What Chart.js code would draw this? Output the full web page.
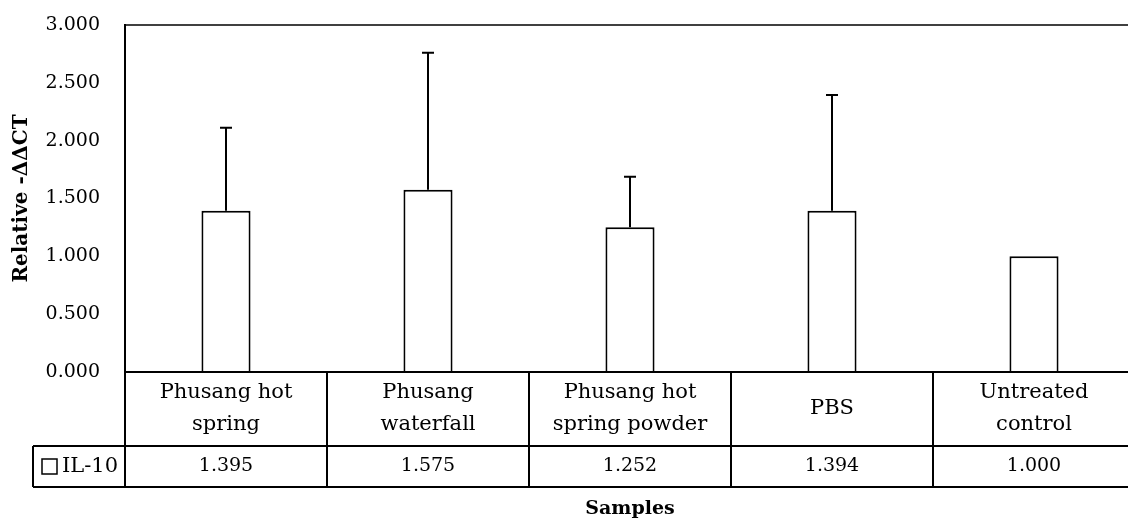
<!DOCTYPE html>
<html>
<head>
<meta charset="utf-8">
<script src="https://cdn.jsdelivr.net/npm/chart.js@4.4.1/dist/chart.umd.min.js"></script>
<style>
html,body{margin:0;padding:0;overflow:hidden;background:#fff;width:1128px;height:521px;}
#wrap{width:1136px;height:521px;}
</style>
</head>
<body>
<div id="wrap"><canvas id="c" width="1136" height="521"></canvas></div>
<script>
const categories = [["Phusang hot","spring"],["Phusang","waterfall"],["Phusang hot","spring powder"],["PBS"],["Untreated","control"]];
const seriesName = "IL-10";
const values = [1.395, 1.575, 1.252, 1.394, 1.000];
const errorsUp = [0.717, 1.185, 0.436, 1.001, 0];
const yTicks = [0, 0.5, 1.0, 1.5, 2.0, 2.5, 3.0];
const yTitle = "Relative -ΔΔCT";
const xTitle = "Samples";

const FONT = "'DejaVu Serif', serif";
const FS = 19;
const FS_CAT = 21;

const tablePlugin = {
  id: 'tablePlugin',
  afterDraw(chart) {
    const ctx = chart.ctx;
    const ca = chart.chartArea;
    const xs = chart.scales.x, ys = chart.scales.y;
    const n = categories.length;
    const cw = (ca.right - ca.left) / n;
    const row1 = ca.bottom + 74, row2 = ca.bottom + 115;
    const legL = 33;
    ctx.save();
    // error bars
    const meta = chart.getDatasetMeta(0);
    ctx.strokeStyle = '#000';
    ctx.lineWidth = 2;
    meta.data.forEach((bar, i) => {
      if (!errorsUp[i]) return;
      const yTop = ys.getPixelForValue(values[i] + errorsUp[i]);
      const yb = ys.getPixelForValue(values[i]);
      ctx.beginPath();
      ctx.moveTo(bar.x, yb); ctx.lineTo(bar.x, yTop);
      ctx.moveTo(bar.x - 6, yTop); ctx.lineTo(bar.x + 6, yTop);
      ctx.stroke();
    });
    // plot top border
    ctx.lineWidth = 1.5;
    ctx.beginPath();
    ctx.moveTo(ca.left, ca.top); ctx.lineTo(ca.right, ca.top);
    ctx.stroke();
    // table lines
    ctx.lineWidth = 2;
    ctx.beginPath();
    ctx.moveTo(ca.left, ca.bottom); ctx.lineTo(ca.right, ca.bottom);
    ctx.moveTo(legL, row1); ctx.lineTo(ca.right, row1);
    ctx.moveTo(legL, row2); ctx.lineTo(ca.right, row2);
    ctx.moveTo(legL, row1); ctx.lineTo(legL, row2);
    ctx.moveTo(ca.left, ca.top); ctx.lineTo(ca.left, row2);
    for (let i = 1; i <= n; i++) {
      const x = xs.getPixelForValue(i - 1) + cw / 2;
      ctx.moveTo(x, ca.bottom); ctx.lineTo(x, row2);
    }
    ctx.stroke();
    // category labels
    ctx.fillStyle = '#000';
    ctx.textAlign = 'center';
    ctx.textBaseline = 'middle';
    const midRow = (ca.bottom + row1) / 2;
    categories.forEach((lab, i) => {
      const x = xs.getPixelForValue(i);
      const lh = 32;
      const y0 = midRow - (lab.length - 1) * lh / 2;
      ctx.font = FS_CAT + 'px ' + FONT;
      lab.forEach((t, j) => ctx.fillText(t, x, y0 + j * lh));
      ctx.font = FS + 'px ' + FONT;
      ctx.fillText(values[i].toFixed(3), x, (row1 + row2) / 2);
    });
    // legend cell
    const my = (row1 + row2) / 2;
    ctx.lineWidth = 1.5;
    ctx.strokeRect(42, my - 7.5, 15, 15);
    ctx.textAlign = 'left';
    ctx.font = FS_CAT + 'px ' + FONT;
    ctx.fillText(seriesName, 62, my);
    // x title
    ctx.font = 'bold ' + FS + 'px ' + FONT;
    ctx.textAlign = 'center';
    ctx.fillText(xTitle, (ca.left + ca.right) / 2, 509);
    ctx.restore();
  }
};

new Chart(document.getElementById('c'), {
  type: 'bar',
  data: {
    labels: categories.map(c => c.join(' ')),
    datasets: [{
      label: seriesName,
      data: values,
      backgroundColor: '#ffffff',
      borderColor: '#000000',
      borderWidth: 2,
      categoryPercentage: 1.0,
      barPercentage: 0.243
    }]
  },
  options: {
    responsive: false,
    animation: false,
    devicePixelRatio: 1,
    layout: { padding: { top: 25, bottom: 149, left: 0, right: 1 } },
    plugins: { legend: { display: false }, tooltip: { enabled: false } },
    scales: {
      x: { display: false },
      y: {
        min: 0, max: 3,
        afterBuildTicks(s) { s.ticks = yTicks.map(v => ({ value: v })); },
        afterFit(s) { s.width = 125; s.paddingTop = 0; s.paddingBottom = 0; },
        grid: { display: false, drawTicks: false },
        border: { display: true, color: '#000', width: 2 },
        ticks: {
          color: '#000',
          padding: 25,
          font: { family: FONT, size: FS },
          callback: v => Number(v).toFixed(3)
        },
        title: {
          display: true,
          text: yTitle,
          color: '#000',
          font: { family: FONT, size: 20, weight: 'bold' },
          padding: { top: 10, bottom: 0 }
        }
      }
    }
  },
  plugins: [tablePlugin]
});
</script>
</body>
</html>
